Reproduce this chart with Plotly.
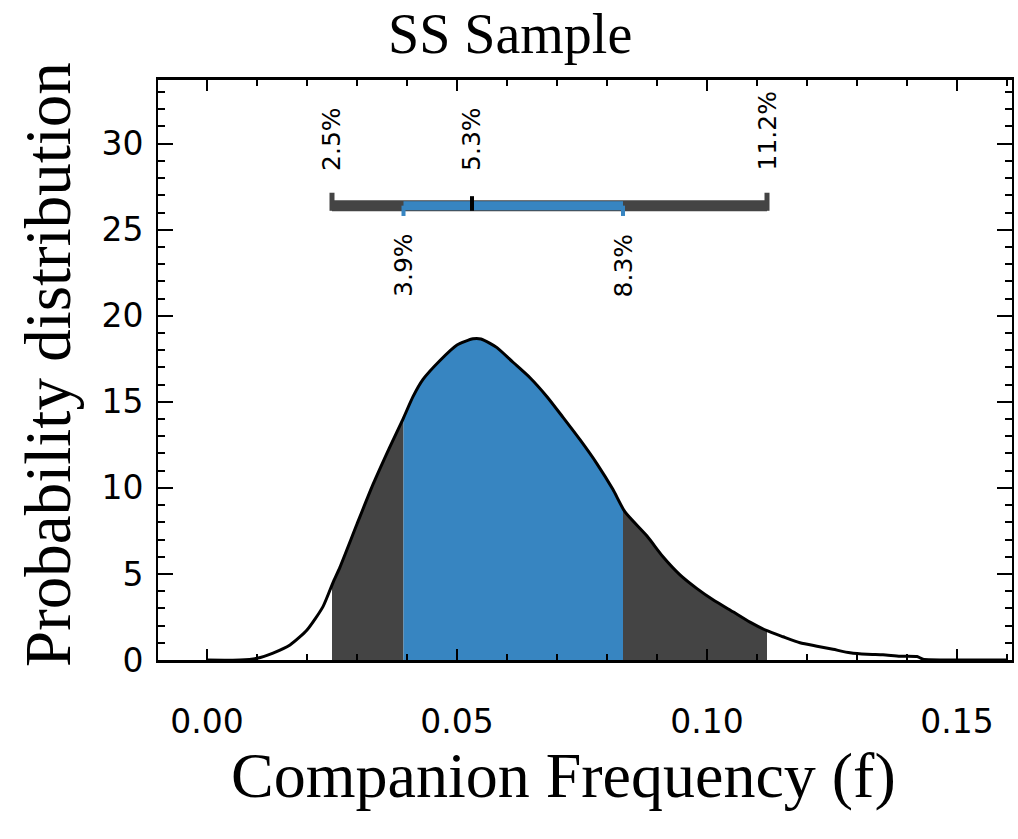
import numpy as np
import plotly.graph_objects as go

# ---- data ----
freq = [0.0, 0.0066, 0.0100, 0.0132, 0.0166, 0.0200, 0.0232, 0.0252, 0.0266,
        0.0300, 0.0332, 0.0366, 0.0392, 0.0412, 0.0432, 0.0466, 0.0500, 0.0532,
        0.0548, 0.0566, 0.0580, 0.0612, 0.0646, 0.0680, 0.0712, 0.0746, 0.0780,
        0.0812, 0.0836, 0.0880, 0.0912, 0.0946, 0.0980, 0.1012, 0.1052, 0.1086,
        0.1120, 0.1152, 0.1186, 0.1220, 0.1252, 0.1286, 0.1320, 0.1352, 0.1386,
        0.1420, 0.1432, 0.1500, 0.1600]
density = [0.0, 0.0, 0.10, 0.40, 0.87, 1.74, 3.10, 4.50, 5.40,
           7.90, 10.20, 12.40, 14.00, 15.30, 16.30, 17.40, 18.30, 18.66,
           18.65, 18.40, 18.15, 17.30, 16.40, 15.30, 14.10, 12.80, 11.40,
           9.90, 8.60, 7.20, 6.00, 4.95, 4.15, 3.50, 2.80, 2.20,
           1.70, 1.35, 1.00, 0.80, 0.62, 0.42, 0.33, 0.30, 0.22,
           0.20, 0.05, 0.0, 0.0]

ci95 = [0.025, 0.112]
ci68 = [0.0393, 0.0832]
median = 0.053
upper_labels = ["2.5%", "5.3%", "11.2%"]
upper_pos = [ci95[0], median, ci95[1]]
lower_labels = ["3.9%", "8.3%"]
lower_pos = [ci68[0], ci68[1]]

x_ticks = [0.0, 0.05, 0.10, 0.15]
y_ticks = [0, 5, 10, 15, 20, 25, 30]

GRAY = "#444444"
BLUE = "#3785c1"
bar_y = 26.4

f = np.array(freq)
d = np.array(density)


def segment(a, b):
    inside = (f > a) & (f < b)
    xs = np.concatenate([[a], f[inside], [b]])
    ys = np.concatenate([[np.interp(a, f, d)], d[inside], [np.interp(b, f, d)]])
    return xs, ys


fig = go.Figure()

for (a, b), col in [((ci95[0], ci68[0]), GRAY), ((ci68[0], ci68[1]), BLUE),
                    ((ci68[1], ci95[1]), GRAY)]:
    xs, ys = segment(a, b)
    fig.add_trace(go.Scatter(x=xs, y=ys, mode="lines", line=dict(width=0, color=col),
                             fill="tozeroy", fillcolor=col, showlegend=False,
                             hoverinfo="skip"))

fig.add_trace(go.Scatter(x=freq, y=density, mode="lines",
                         line=dict(color="black", width=3, shape="spline", smoothing=0.6),
                         showlegend=False))

# interval bar
fig.add_trace(go.Scatter(x=ci95, y=[bar_y, bar_y], mode="lines",
                         line=dict(color=GRAY, width=11), showlegend=False))
fig.add_trace(go.Scatter(x=ci68, y=[bar_y, bar_y], mode="lines",
                         line=dict(color=BLUE, width=9), showlegend=False))
for xv in ci95:
    fig.add_trace(go.Scatter(x=[xv, xv], y=[bar_y - 0.3, bar_y + 0.75], mode="lines",
                             line=dict(color=GRAY, width=5), showlegend=False))
for xv in ci68:
    fig.add_trace(go.Scatter(x=[xv, xv], y=[bar_y - 0.6, bar_y], mode="lines",
                             line=dict(color=BLUE, width=4), showlegend=False))
fig.add_trace(go.Scatter(x=[median, median], y=[bar_y - 0.3, bar_y + 0.55], mode="lines",
                         line=dict(color="black", width=4), showlegend=False))

lab_font = dict(family="DejaVu Sans", size=25, color="black")
for t, xv in zip(upper_labels, upper_pos):
    fig.add_annotation(x=xv, y=28.3, text=t, textangle=-90, showarrow=False,
                       xanchor="center", yanchor="bottom", font=lab_font)
for t, xv in zip(lower_labels, lower_pos):
    fig.add_annotation(x=xv, y=24.9, text=t, textangle=-90, showarrow=False,
                       xanchor="center", yanchor="top", font=lab_font)

# titles (positions given in page pixels, converted to plot-area fractions)
PL, PR, PT, PB = 158, 1012, 80, 660
W, H = PR - PL, PB - PT
serif = "Liberation Serif"
fig.add_annotation(xref="paper", yref="paper", x=(510 - PL) / W, y=(PB - 1) / H,
                   text="SS Sample", showarrow=False, xanchor="center", yanchor="top",
                   font=dict(family=serif, size=56, color="black"))
fig.add_annotation(xref="paper", yref="paper", x=(563 - PL) / W, y=(PB - 775) / H,
                   text="Companion Frequency (f)", showarrow=False, xanchor="center",
                   yanchor="middle", font=dict(family=serif, size=64, color="black"))
fig.add_annotation(xref="paper", yref="paper", x=(48 - PL) / W, y=(PB - 365) / H,
                   text="Probability distribution", showarrow=False, textangle=-90,
                   xanchor="center", yanchor="middle",
                   font=dict(family=serif, size=65, color="black"))

tick_font = dict(family="DejaVu Sans", size=33, color="black")
fig.update_xaxes(range=[-0.0098, 0.161], tickvals=x_ticks, tickformat=".2f",
                 ticks="inside", ticklen=11, tickwidth=2, tickcolor="black",
                 minor=dict(ticks="inside", dtick=0.01, tick0=0, ticklen=6,
                            tickwidth=1.5, tickcolor="black"),
                 showline=True, linecolor="black", linewidth=3, mirror="ticks",
                 showgrid=False, zeroline=False, tickfont=tick_font,
                 ticklabelstandoff=30, automargin=False)
fig.update_yaxes(range=[0, 33.7], tickvals=y_ticks, ticks="inside", ticklen=15,
                 tickwidth=2, tickcolor="black",
                 minor=dict(ticks="inside", dtick=1, tick0=0, ticklen=7,
                            tickwidth=1.5, tickcolor="black"),
                 showline=True, linecolor="black", linewidth=2, mirror="ticks",
                 showgrid=False, zeroline=False, tickfont=tick_font,
                 ticklabelstandoff=6, automargin=False)

fig.update_layout(width=1018, height=839,
                  margin=dict(l=PL, r=1018 - PR, t=PT, b=839 - PB),
                  plot_bgcolor="white", paper_bgcolor="white", showlegend=False)

# remove the browser's default 8px body margin so the figure sits at the page corner
fig.write_html("out.html", config={"displayModeBar": False},
               post_script="document.body.style.margin='0px';document.body.style.overflow='hidden';")
